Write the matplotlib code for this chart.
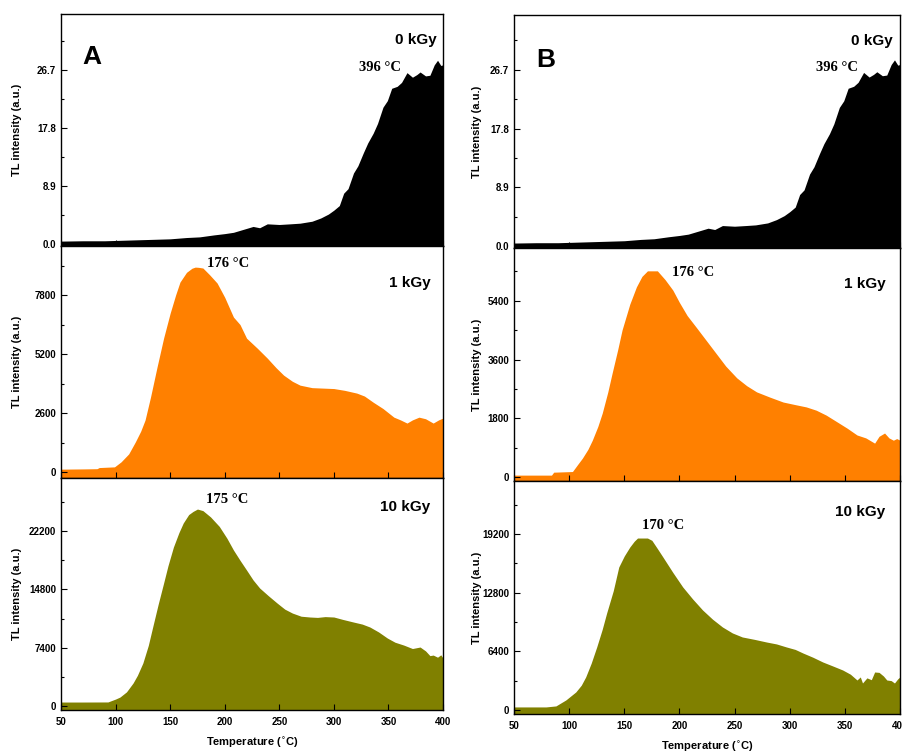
import numpy as np
import matplotlib
matplotlib.use('Agg')
import matplotlib.pyplot as plt
from matplotlib.ticker import MultipleLocator, FormatStrFormatter

# 0 kGy (same curve in A and B)
T0 = [50, 70, 90, 110, 130, 150, 165, 177, 190, 200, 208, 218, 226, 232, 239, 250, 260, 269,
      280, 288, 295, 300, 305, 309, 313, 318, 322, 327, 331, 336, 340, 345, 349, 353, 358, 362,
      367, 372, 376, 379, 384, 388, 392, 395, 398, 400]
I0 = [0.45, 0.5, 0.5, 0.6, 0.7, 0.8, 1.0, 1.1, 1.4, 1.6, 1.8, 2.3, 2.7, 2.5, 3.1, 3.0, 3.1, 3.2,
      3.5, 4.0, 4.6, 5.2, 5.9, 7.8, 8.5, 10.9, 12.0, 14.0, 15.5, 17.0, 18.5, 21.0, 22.0, 23.9, 24.2, 24.8,
      26.3, 25.6, 26.0, 26.4, 25.8, 25.9, 27.5, 28.2, 27.4, 27.5]

# 1 kGy, panel A
T1a = [50, 70, 83, 85, 99, 105, 112, 118, 123, 127, 132, 138, 144, 150, 155, 159, 165, 170, 173,
       176, 180, 186, 193, 200, 208, 214, 220, 230, 239, 247, 254, 262, 269, 280, 290, 300, 310,
       321, 328, 336, 345, 355, 361, 367, 372, 378, 384, 391, 396, 400]
I1a = [130, 140, 150, 200, 230, 450, 800, 1320, 1800, 2290, 3300, 4630, 5900, 7000, 7800, 8370,
       8800, 8980, 9030, 9020, 8990, 8700, 8330, 7700, 6830, 6500, 5900, 5450, 5020, 4600, 4270,
       4000, 3830, 3720, 3700, 3680, 3600, 3480, 3350, 3080, 2800, 2420, 2300, 2160, 2300, 2420,
       2350, 2160, 2300, 2380]

# 10 kGy, panel A
T10a = [50, 70, 93, 100, 104, 110, 116, 120, 125, 130, 134, 139, 144, 148, 153, 158, 162, 167,
        171, 175, 180, 187, 195, 202, 208, 214, 220, 226, 232, 240, 248, 255, 262, 270, 278, 285,
        292, 300, 308, 318, 326, 333, 341, 349, 356, 364, 372, 379, 384, 388, 391, 395, 398, 400]
I10a = [510, 510, 520, 890, 1140, 1800, 2920, 3900, 5460, 7700, 10030, 12900, 15600, 17800,
        20180, 22000, 23230, 24300, 24700, 25000, 24800, 24000, 22800, 21300, 19800, 18500,
        17260, 16000, 14980, 14000, 13070, 12300, 11800, 11400, 11300, 11250, 11350, 11300,
        11000, 10660, 10400, 10030, 9400, 8630, 8100, 7740, 7300, 7490, 7000, 6400, 6470, 6200,
        6500, 6090]

# 1 kGy, panel B
T1b = [50, 70, 84, 86, 103, 108, 112, 117, 121, 126, 130, 135, 139, 144, 148, 155, 161, 166,
       171, 176, 180, 187, 194, 200, 207, 215, 224, 233, 242, 252, 261, 270, 282, 294, 305, 315,
       324, 333, 343, 352, 361, 369, 377, 381, 386, 390, 394, 397, 400]
I1b = [60, 60, 60, 150, 170, 400, 580, 850, 1130, 1550, 1960, 2600, 3190, 3900, 4510, 5300, 5830,
       6150, 6320, 6320, 6320, 6050, 5730, 5350, 4950, 4600, 4200, 3800, 3400, 3040, 2800, 2610,
       2450, 2300, 2220, 2150, 2050, 1900, 1690, 1500, 1290, 1200, 1040, 1250, 1350, 1200, 1130,
       1180, 1130]

# 10 kGy, panel B
T10b = [50, 70, 79, 88, 97, 106, 111, 115, 120, 125, 130, 134, 140, 145, 150, 155, 159, 162, 167,
        171, 175, 180, 185, 194, 203, 212, 221, 230, 239, 248, 257, 268, 279, 288, 297, 305, 312,
        321, 330, 339, 348, 355, 361, 364, 366, 370, 374, 377, 381, 385, 388, 392, 395, 398, 400]
I10b = [330, 330, 330, 440, 1090, 1960, 2700, 3600, 5100, 6870, 8800, 10570, 13000, 15590,
        16800, 17770, 18400, 18750, 18750, 18750, 18500, 17600, 16680, 15000, 13410, 12100,
        10900, 9900, 9050, 8400, 7960, 7700, 7410, 7200, 6870, 6600, 6210, 5750, 5230, 4800,
        4360, 3900, 3270, 3600, 2940, 3500, 3300, 4140, 4100, 3700, 3270, 3200, 2940, 3400, 3600]

W, H = 902, 753
fig = plt.figure(figsize=(W / 100, H / 100), dpi=100)

def box(x0, x1, y0, y1):
    # pixel box -> figure fraction
    return [x0 / W, 1 - y1 / H, (x1 - x0) / W, (y1 - y0) / H]

sans = 'Liberation Sans'
serif = 'Liberation Serif'

def panel(rect, T, I, color, ylim, major, fmt, dose, peak_txt, peak_pos, dose_pos,
          bottom=False, letter=None, letter_pos=None, ylab_x=-0.1):
    ax = fig.add_axes(rect)
    ax.fill_between(T, I, ylim[0], color=color, linewidth=0)
    ax.set_xlim(50, 400)
    ax.set_ylim(*ylim)
    ax.yaxis.set_major_locator(MultipleLocator(major))
    ax.yaxis.set_minor_locator(MultipleLocator(major / 2))
    ax.yaxis.set_major_formatter(FormatStrFormatter(fmt))
    ax.xaxis.set_major_locator(MultipleLocator(50))
    ax.tick_params(direction='in', which='major', length=4, width=0.8)
    ax.tick_params(direction='in', which='minor', length=2.5, width=0.8)
    ax.tick_params(axis='x', which='both', top=False)
    ax.tick_params(axis='y', which='both', right=False)
    for s in ax.spines.values():
        s.set_linewidth(1.0)
    for lab in ax.get_yticklabels():
        lab.set_fontfamily(sans); lab.set_fontweight('bold'); lab.set_fontsize(7)
    ax.set_ylabel('TL intensity (a.u.)', fontfamily=sans, fontweight='bold', fontsize=8)
    ax.yaxis.set_label_coords(ylab_x, 0.5)
    if bottom:
        for lab in ax.get_xticklabels():
            lab.set_fontfamily(sans); lab.set_fontweight('bold'); lab.set_fontsize(7)
        ax.set_xlabel('Temperature ($^{\\circ}$C)', fontfamily=sans, fontweight='bold',
                      fontsize=8, va='center')
        ax.xaxis.set_label_coords(0.5, -0.142)
        ax.tick_params(axis='x', pad=5)
    else:
        ax.set_xticklabels([])
    ax.text(dose_pos[0], dose_pos[1], dose, transform=ax.transAxes, ha='center', va='center',
            fontfamily=sans, fontweight='bold', fontsize=11)
    ax.text(peak_pos[0], peak_pos[1], peak_txt, ha='center', va='center',
            fontfamily=serif, fontweight='bold', fontsize=10.5)
    if letter:
        ax.text(letter_pos[0], letter_pos[1], letter, transform=ax.transAxes, ha='center',
                va='center', fontfamily=sans, fontweight='bold', fontsize=19)
    return ax

# panel A
panel(box(61, 443, 14, 246), T0, I0, 'black', (-0.3, 35.3), 8.9, '%.1f', '0 kGy',
      '396 °C', (342, 27.1), (0.93, 0.888), letter='A', letter_pos=(0.081, 0.815), ylab_x=-0.102)
panel(box(61, 443, 246, 478), T1a, I1a, '#FF8000', (-260, 9960), 2600, '%d', '1 kGy',
      '176 °C', (203, 9210), (0.914, 0.84), ylab_x=-0.102)
panel(box(61, 443, 478, 710), T10a, I10a, '#808000', (-500, 28940), 7400, '%d', '10 kGy',
      '175 °C', (202, 26270), (0.90, 0.875), bottom=True, ylab_x=-0.102)

# panel B
panel(box(514, 900, 15, 248), T0, I0, 'black', (-0.3, 35.0), 8.9, '%.1f', '0 kGy',
      '396 °C', (343, 27.0), (0.927, 0.888), letter='B', letter_pos=(0.083, 0.807), ylab_x=-0.083)
panel(box(514, 900, 248, 481), T1b, I1b, '#FF8000', (-120, 7020), 1800, '%d', '1 kGy',
      '176 °C', (212, 6255), (0.909, 0.845), ylab_x=-0.083)
panel(box(514, 900, 481, 714), T10b, I10b, '#808000', (-440, 24970), 6400, '%d', '10 kGy',
      '170 °C', (185, 20170), (0.896, 0.867), bottom=True, ylab_x=-0.083)

fig.savefig('out.png', dpi=100)
